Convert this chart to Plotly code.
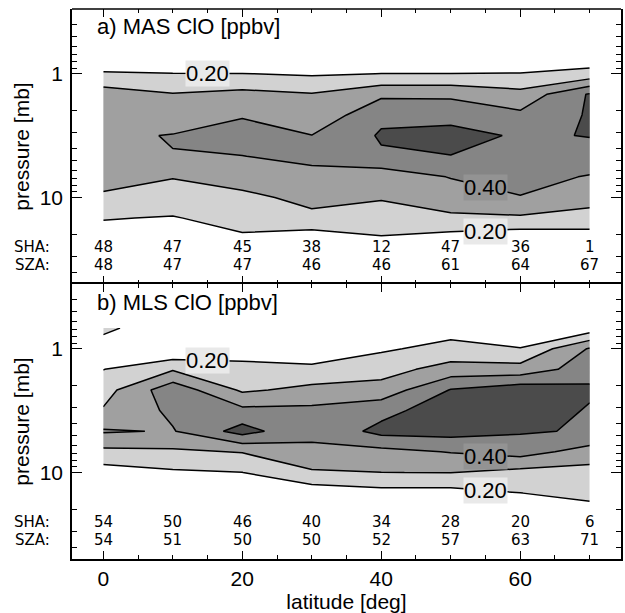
import numpy as np
import plotly.graph_objects as go

# ---------------- data ----------------
latitude = [0, 10, 20, 30, 40, 50, 60, 70]
pressure = [0.681, 1.0, 1.468, 2.154, 3.162, 4.642, 6.813, 10.0, 14.68, 21.54, 31.62]  # mb

# MAS ClO [ppbv]  (one list per latitude, values at the pressure levels above)
mas_lat00 = [0.10, 0.21, 0.35, 0.37, 0.38, 0.37, 0.35, 0.28, 0.205, 0.155, 0.08]
mas_lat10 = [0.08, 0.203, 0.306, 0.335, 0.405, 0.397, 0.305, 0.252, 0.194, 0.12, 0.06]
mas_lat20 = [0.08, 0.202, 0.328, 0.39, 0.447, 0.398, 0.34, 0.278, 0.235, 0.185, 0.08]
mas_lat30 = [0.08, 0.189, 0.307, 0.32, 0.402, 0.43, 0.363, 0.325, 0.279, 0.14, 0.06]
mas_lat40 = [0.08, 0.201, 0.38, 0.48, 0.51, 0.488, 0.336, 0.31, 0.241, 0.193, 0.09]
mas_lat50 = [0.08, 0.201, 0.38, 0.47, 0.53, 0.498, 0.405, 0.3425, 0.285, 0.157, 0.07]
mas_lat60 = [0.08, 0.205, 0.332, 0.42, 0.4895, 0.47, 0.44, 0.395, 0.285, 0.126, 0.06]
mas_lat70 = [0.12, 0.23, 0.51, 0.51, 0.503, 0.47, 0.392, 0.33, 0.27, 0.139, 0.06]

# MLS ClO [ppbv]
mls_lat00 = [0.22, 0.1575, 0.198, 0.26, 0.309, 0.41, 0.274, 0.153, 0.09, 0.05, 0.03]
mls_lat10 = [0.137, 0.10, 0.291, 0.464, 0.421, 0.3933, 0.284, 0.186, 0.10, 0.05, 0.03]
mls_lat20 = [0.08, 0.122, 0.25, 0.2845, 0.4254, 0.54, 0.305, 0.199, 0.11, 0.06, 0.03]
mls_lat30 = [0.06, 0.123, 0.226, 0.326, 0.424, 0.415, 0.387, 0.285, 0.138, 0.07, 0.03]
mls_lat40 = [0.10, 0.187, 0.26, 0.34, 0.4667, 0.531, 0.37, 0.299, 0.165, 0.08, 0.04]
mls_lat50 = [0.161, 0.23, 0.34, 0.505, 0.56, 0.54, 0.405, 0.302, 0.164, 0.08, 0.04]
mls_lat60 = [0.105, 0.205, 0.34, 0.56, 0.58, 0.51, 0.441, 0.269, 0.199, 0.10, 0.05]
mls_lat70 = [0.139, 0.409, 0.45, 0.52, 0.488, 0.491, 0.359, 0.262, 0.225, 0.161, 0.08]

sha_mas = [48, 47, 45, 38, 12, 47, 36, 1]
sza_mas = [48, 47, 47, 46, 46, 61, 64, 67]
sha_mls = [54, 50, 46, 40, 34, 28, 20, 6]
sza_mls = [54, 51, 50, 50, 52, 57, 63, 71]

contour_levels = [0.2, 0.3, 0.4, 0.5]
x_major = [0, 20, 40, 60]
x_minor = [5, 10, 15, 25, 30, 35, 45, 50, 55, 65, 70]
p_major = [1, 10]
p_minor = [0.4, 0.5, 0.6, 0.7, 0.8, 0.9, 2, 3, 4, 5, 6, 7, 8, 9, 20, 30, 40]

# ---------------- figure ----------------
mas_cols = [mas_lat00, mas_lat10, mas_lat20, mas_lat30, mas_lat40, mas_lat50, mas_lat60, mas_lat70]
mls_cols = [mls_lat00, mls_lat10, mls_lat20, mls_lat30, mls_lat40, mls_lat50, mls_lat60, mls_lat70]
mas_z = [list(row) for row in zip(*mas_cols)]
mls_z = [list(row) for row in zip(*mls_cols)]

FONT = "Liberation Sans, Arial, Helvetica, sans-serif"
NUMFONT = "DejaVu Sans, Liberation Sans, sans-serif"
band = ["#ffffff", "#d2d2d2", "#a0a0a0", "#858585", "#4b4b4b"]
scale = [[0.0, band[0]], [0.25, band[1]], [0.5, band[2]], [0.75, band[3]], [1.0, band[4]]]

step = contour_levels[1] - contour_levels[0]
common = dict(
    x=latitude, y=pressure, autocontour=False,
    contours=dict(start=contour_levels[0], end=contour_levels[-1] + 1e-4, size=step,
                  coloring="fill", showlines=True, showlabels=False),
    line=dict(color="black", width=1.5, smoothing=0),
    colorscale=scale, showscale=False, hoverinfo="skip",
)

fig = go.Figure()
fig.add_trace(go.Contour(z=mas_z, xaxis="x", yaxis="y", **common))
fig.add_trace(go.Contour(z=mls_z, xaxis="x2", yaxis="y2", **common))

xcommon = dict(
    range=[-4.5, 74.5], tickmode="array", tickvals=x_major,
    ticks="inside", ticklen=8, tickwidth=1.3, tickcolor="black",
    minor=dict(tickmode="array", tickvals=x_minor, ticks="inside", ticklen=4,
               tickwidth=1, tickcolor="black"),
    linecolor="black", linewidth=1.5, mirror="ticks",
    showgrid=False, zeroline=False,
    tickfont=dict(family=FONT, size=21, color="black"),
)
ycommon = dict(
    type="log", range=[np.log10(50), np.log10(0.3)],
    tickmode="array", tickvals=p_major, ticktext=[str(v) for v in p_major],
    ticks="inside", ticklen=10, tickwidth=1.3, tickcolor="black",
    minor=dict(tickmode="array", tickvals=p_minor, ticks="inside", ticklen=5,
               tickwidth=1, tickcolor="black"),
    showline=True, linecolor="black", linewidth=1.5, mirror="ticks",
    showgrid=False, zeroline=False, ticklabelstandoff=3,
    tickfont=dict(family=FONT, size=21, color="black"),
)

fig.update_layout(
    width=625, height=613,
    margin=dict(l=72, r=2, t=9, b=54),
    paper_bgcolor="white", plot_bgcolor="white",
    showlegend=False,
    # top panel: ticks only (its frame line at the top is drawn as a shape, the
    # shared divider line comes from the lower panel's mirrored axis line)
    xaxis=dict(domain=[0, 1], anchor="y", showticklabels=False, showline=False, **xcommon),
    xaxis2=dict(domain=[0, 1], anchor="y2", showticklabels=True, showline=True,
                title=dict(text="latitude [deg]", font=dict(family=FONT, size=21, color="black"),
                           standoff=2),
                **xcommon),
    yaxis=dict(domain=[0.5, 1], anchor="x", **ycommon),
    yaxis2=dict(domain=[0, 0.5], anchor="x2", **ycommon),
    shapes=[dict(type="line", xref="paper", yref="paper", x0=0, x1=1, y0=1, y1=1,
                 line=dict(color="black", width=1.5))],
)

ann = []
# panel titles and y-axis titles
for text, ypix, yc in [("a) MAS ClO [ppbv]", 27, 146.5), ("b) MLS ClO [ppbv]", 302, 421.5)]:
    ann.append(dict(text=text, xref="paper", yref="paper",
                    x=(95 - 72) / 551, y=(559 - ypix) / 550,
                    xanchor="left", yanchor="middle", showarrow=False,
                    font=dict(family=FONT, size=22, color="black")))
    ann.append(dict(text="pressure [mb]", xref="paper", yref="paper",
                    x=(21 - 72) / 551, y=(559 - yc) / 550, textangle=-90,
                    xanchor="center", yanchor="middle", showarrow=False,
                    font=dict(family=FONT, size=21, color="black")))

# contour labels
labels_top = [("0.20", 15, 1.0, "#e9e9e9"), ("0.40", 55, 8.3, "#939393"), ("0.20", 55, 18.8, "#e9e9e9")]
labels_bot = [("0.20", 15, 1.24, "#e9e9e9"), ("0.40", 55, 7.4, "#939393"), ("0.20", 55, 13.9, "#e9e9e9")]
for (lst, xr, yr) in [(labels_top, "x", "y"), (labels_bot, "x2", "y2")]:
    for text, lx, lp, bg in lst:
        ann.append(dict(text=text, xref=xr, yref=yr, x=lx, y=np.log10(lp),
                        showarrow=False, bgcolor=bg, borderpad=0,
                        font=dict(family=FONT, size=22, color="black")))

# SHA / SZA rows
y_sha, y_sza = 1.400, 1.545
for (sha, sza, yr) in [(sha_mas, sza_mas, "y"), (sha_mls, sza_mls, "y2")]:
    xr = "x" if yr == "y" else "x2"
    for name, yv in [("SHA:", y_sha), ("SZA:", y_sza)]:
        ann.append(dict(text=name, xref="paper", yref=yr, x=(52 - 72) / 551, y=yv,
                        xanchor="right", yanchor="middle", showarrow=False,
                        font=dict(family=NUMFONT, size=15, color="black")))
    for lat, a, b in zip(latitude, sha, sza):
        ann.append(dict(text=str(a), xref=xr, yref=yr, x=lat, y=y_sha, showarrow=False,
                        yanchor="middle", font=dict(family=NUMFONT, size=15, color="black")))
        ann.append(dict(text=str(b), xref=xr, yref=yr, x=lat, y=y_sza, showarrow=False,
                        yanchor="middle", font=dict(family=NUMFONT, size=15, color="black")))

fig.update_layout(annotations=ann)
fig.write_html("out.html", config={"displayModeBar": False},
               post_script="document.body.style.margin='0';document.body.style.overflow='hidden';")
